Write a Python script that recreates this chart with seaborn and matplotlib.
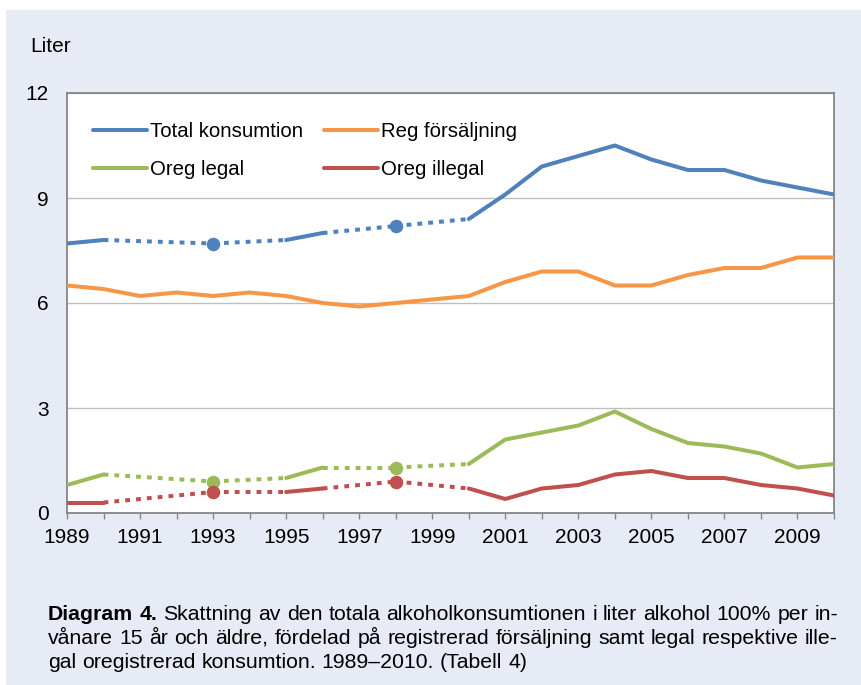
import numpy as np
import pandas as pd
import matplotlib
matplotlib.use("Agg")
from matplotlib import pyplot as plt
from matplotlib.lines import Line2D
from matplotlib.patches import Rectangle
import seaborn as sns

# data (None = no estimate that year)
years = list(range(1989, 2011))
total = [7.7, 7.8, None, None, 7.7, None, 7.8, 8.0, None, 8.2, None,
         8.4, 9.1, 9.9, 10.2, 10.5, 10.1, 9.8, 9.8, 9.5, 9.3, 9.1]
reg = [6.5, 6.4, 6.2, 6.3, 6.2, 6.3, 6.2, 6.0, 5.9, 6.0, 6.1,
       6.2, 6.6, 6.9, 6.9, 6.5, 6.5, 6.8, 7.0, 7.0, 7.3, 7.3]
legal = [0.8, 1.1, None, None, 0.9, None, 1.0, 1.3, None, 1.3, None,
         1.4, 2.1, 2.3, 2.5, 2.9, 2.4, 2.0, 1.9, 1.7, 1.3, 1.4]
illegal = [0.3, 0.3, None, None, 0.6, None, 0.6, 0.7, None, 0.9, None,
           0.7, 0.4, 0.7, 0.8, 1.1, 1.2, 1.0, 1.0, 0.8, 0.7, 0.5]

names = ["Total konsumtion", "Reg försäljning", "Oreg legal", "Oreg illegal"]
series = [total, reg, legal, illegal]
colors = ["#4F81BD", "#F79646", "#9BBB59", "#C0504D"]

ytick_vals = [0, 3, 6, 9, 12]
caption_bold = "Diagram 4."
caption_lines = [
    "Skattning av den totala alkoholkonsumtionen i liter alkohol 100% per in-",
    "vånare 15 år och äldre, fördelad på registrerad försäljning samt legal respektive ille-",
    "gal oregistrerad konsumtion. 1989–2010. (Tabell 4)",
]


def split_segments(vals):
    # solid between neighbouring years, dotted across missing years
    pts = [(y, v) for y, v in zip(years, vals) if v is not None]
    rows = []
    seg = -1
    prev = None
    for (y0, v0), (y1, v1) in zip(pts[:-1], pts[1:]):
        style = "solid" if y1 - y0 == 1 else "dotted"
        if not (style == "solid" and prev == "solid"):
            seg += 1
            rows.append(dict(year=y0, value=v0, seg=seg, style=style))
        rows.append(dict(year=y1, value=v1, seg=seg, style=style))
        prev = style
    lone = []
    for i, (y, v) in enumerate(pts):
        left = i > 0 and y - pts[i - 1][0] == 1
        right = i < len(pts) - 1 and pts[i + 1][0] - y == 1
        if not left and not right:
            lone.append(dict(year=y, value=v))
    return pd.DataFrame(rows), pd.DataFrame(lone, columns=["year", "value"])


sns.set_style("white")
plt.rcParams["font.family"] = ["Liberation Sans", "DejaVu Sans"]
plt.rcParams["text.color"] = "black"
plt.rcParams["xtick.color"] = "black"
plt.rcParams["ytick.color"] = "black"

W, H = 862, 685
fig = plt.figure(figsize=(W / 100, H / 100), dpi=100, facecolor="white")
fig.add_artist(Rectangle((6 / W, 0), 1, 1 - 10 / H, transform=fig.transFigure,
                         facecolor="#E7EBF5", edgecolor="none", zorder=-10))

ax = fig.add_axes([67 / W, 1 - 513 / H, (834 - 67) / W, (513 - 93) / H])
ax.set_facecolor("white")

lw = 2.9
for vals, col in zip(series, colors):
    segs, lone = split_segments(vals)
    solid = segs[segs["style"] == "solid"]
    dotted = segs[segs["style"] == "dotted"]
    if len(dotted):
        sns.lineplot(data=dotted, x="year", y="value", units="seg", estimator=None,
                     color=col, lw=lw, linestyle=(0, (1.2, 1.5)), dash_capstyle="butt",
                     ax=ax, legend=False, zorder=3)
    sns.lineplot(data=solid, x="year", y="value", units="seg", estimator=None,
                 color=col, lw=lw, solid_capstyle="round", solid_joinstyle="round",
                 ax=ax, legend=False, zorder=3)
    if len(lone):
        sns.scatterplot(data=lone, x="year", y="value", color=col, s=95,
                        linewidth=0, ax=ax, legend=False, zorder=4)

ax.set_xlim(1989, 2010)
ax.set_ylim(0, 12)
ax.set_xticks(years)
ax.set_xticklabels([str(y) if (y - 1989) % 2 == 0 else "" for y in years])
ax.set_yticks(ytick_vals)
ax.set_yticklabels([str(v) for v in ytick_vals])
ax.set_xlabel("")
ax.set_ylabel("")
ax.grid(axis="y", color="#BFBFBF", lw=1.0)
ax.grid(axis="x", visible=False)
ax.set_axisbelow(True)
for sp in ax.spines.values():
    sp.set_color("#868686")
    sp.set_linewidth(1.3)
ax.tick_params(axis="x", direction="out", length=4.5, width=1, color="#868686",
               labelsize=15, pad=6, bottom=True)
ax.tick_params(axis="y", length=0, labelsize=15, pad=13)

# legend filled column-wise, so order handles to read row by row
order = [0, 2, 1, 3]
handles = [Line2D([], [], color=colors[i], lw=lw, solid_capstyle="round") for i in order]
ax.legend(handles, [names[i] for i in order], ncol=2, loc="upper left",
          bbox_to_anchor=(0.034, 0.93), frameon=False, fontsize=14.7,
          handlelength=2.65, handletextpad=0.15, columnspacing=1.0,
          labelspacing=0.93, borderpad=0, borderaxespad=0)

fig.text(30 / W, 1 - 47 / H, "Liter", fontsize=15, va="center", ha="left")

# caption below the chart, justified like the report text
cap_fs = 15.3
cap_left, cap_right = 48, 838
line_base = [620.5, 644, 667.5]
renderer = fig.canvas.get_renderer()


def place_line(words, weights, yy, justify):
    arts = [fig.text(0, 1 - yy / H, w, fontsize=cap_fs, fontweight=wt,
                     va="baseline", ha="left") for w, wt in zip(words, weights)]
    widths = [a.get_window_extent(renderer).width for a in arts]
    probe = fig.text(0, 0, "a a", fontsize=cap_fs)
    space = probe.get_window_extent(renderer).width
    probe.set_text("aa")
    space -= probe.get_window_extent(renderer).width
    probe.remove()
    if justify and len(words) > 1:
        gap = (cap_right - cap_left - sum(widths)) / (len(words) - 1)
    else:
        gap = space
    x = cap_left
    for a, wd in zip(arts, widths):
        a.set_x(x / W)
        x += wd + gap


first = caption_bold.split() + caption_lines[0].split()
place_line(first, ["bold"] * len(caption_bold.split()) + ["normal"] * len(caption_lines[0].split()),
           line_base[0], True)
place_line(caption_lines[1].split(), ["normal"] * len(caption_lines[1].split()), line_base[1], True)
place_line(caption_lines[2].split(), ["normal"] * len(caption_lines[2].split()), line_base[2], False)

fig.savefig("out.png", dpi=100)
